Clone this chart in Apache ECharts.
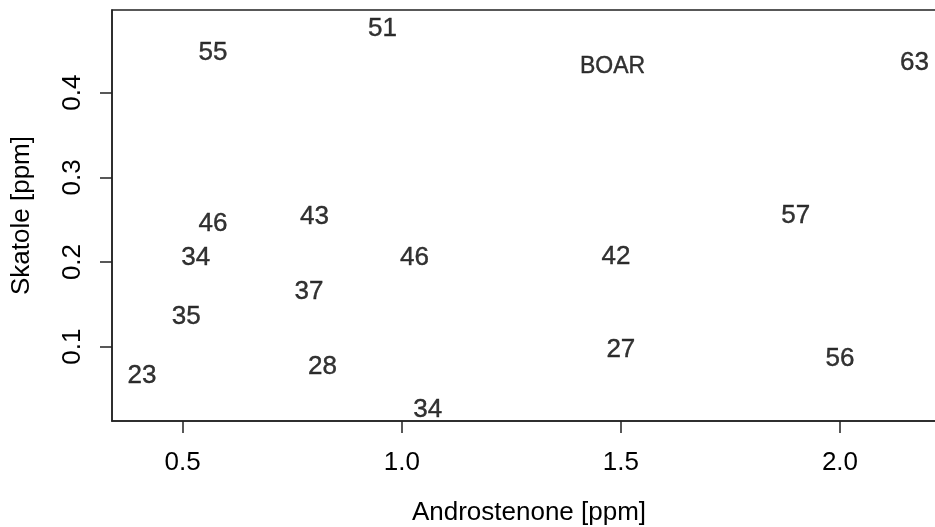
<!DOCTYPE html>
<html>
<head>
<meta charset="utf-8">
<script src="https://cdn.jsdelivr.net/npm/echarts@6/dist/echarts.min.js"></script>
<style>
  html, body { margin: 0; padding: 0; background: #fff; }
  #chart { width: 935px; height: 527px; }
</style>
</head>
<body>
<div id="chart"></div>
<script>
// Androstenone vs. skatole levels, each point drawn as its label number
const androstenone = [0.407, 0.508, 0.530, 0.569, 0.569, 0.801, 0.788, 0.819, 0.956, 1.029, 1.059, 1.489, 1.500, 1.899, 2.000, 2.170];
const skatole      = [0.067, 0.136, 0.206, 0.246, 0.448, 0.255, 0.166, 0.078, 0.477, 0.206, 0.027, 0.207, 0.098, 0.256, 0.087, 0.436];
const pointLabels  = ['23', '35', '34', '46', '55', '43', '37', '28', '51', '46', '34', '42', '27', '57', '56', '63'];

// Group annotation
const annotationText = 'BOAR';
const annotationPos = [1.481, 0.432];

const xTicks = [0.5, 1.0, 1.5, 2.0];
const yTicks = [0.1, 0.2, 0.3, 0.4];

const FONT = '"Liberation Sans", Arial, Helvetica, sans-serif';
const INK = '#000';

const chart = echarts.init(document.getElementById('chart'), null, { renderer: 'canvas' });

const pointData = androstenone.map((x, i) => [x, skatole[i], pointLabels[i]]);

const textLabel = size => ({
  show: true, position: 'inside', offset: [0, 1],
  formatter: p => p.data[2],
  color: INK, fontFamily: FONT, fontSize: size,
  textBorderColor: INK, textBorderWidth: 0.4
});

chart.setOption({
  animation: false,
  backgroundColor: '#fff',
  grid: {
    left: 112, top: 10, width: 834, height: 411,
    outerBoundsMode: 'none',
    containLabel: false,
    show: true, borderColor: '#222', borderWidth: 1.5, backgroundColor: 'transparent'
  },
  xAxis: {
    type: 'value',
    min: 0.3387, max: 2.2420,
    name: 'Androstenone [ppm]',
    nameLocation: 'middle',
    nameGap: 79,
    nameTextStyle: { color: INK, fontFamily: FONT, fontSize: 26 },
    axisLine: { show: true, onZero: false, lineStyle: { color: '#222', width: 1.5 } },
    axisTick: { show: true, length: 12, customValues: xTicks, lineStyle: { color: '#222', width: 1.5 } },
    axisLabel: {
      show: true, margin: 29, customValues: xTicks,
      color: INK, fontFamily: FONT, fontSize: 26,
      formatter: v => v.toFixed(1)
    },
    splitLine: { show: false }
  },
  yAxis: {
    type: 'value',
    min: 0.01225, max: 0.4977,
    name: 'Skatole [ppm]',
    nameLocation: 'middle',
    nameGap: 77,
    nameRotate: 90,
    nameTextStyle: { color: INK, fontFamily: FONT, fontSize: 26 },
    axisLine: { show: true, onZero: false, lineStyle: { color: '#222', width: 1.5 } },
    axisTick: { show: true, length: 12, customValues: yTicks, lineStyle: { color: '#222', width: 1.5 } },
    axisLabel: {
      show: true, margin: 26, rotate: 90, customValues: yTicks,
      color: INK, fontFamily: FONT, fontSize: 26,
      formatter: v => v.toFixed(1)
    },
    splitLine: { show: false }
  },
  series: [
    {
      type: 'scatter',
      data: pointData,
      symbolSize: 1,
      itemStyle: { color: 'rgba(0,0,0,0)' },
      label: textLabel(26),
      emphasis: { disabled: true }
    },
    {
      type: 'scatter',
      data: [[annotationPos[0], annotationPos[1], annotationText]],
      symbolSize: 1,
      itemStyle: { color: 'rgba(0,0,0,0)' },
      label: textLabel(23),
      emphasis: { disabled: true }
    }
  ]
});
</script>
</body>
</html>
